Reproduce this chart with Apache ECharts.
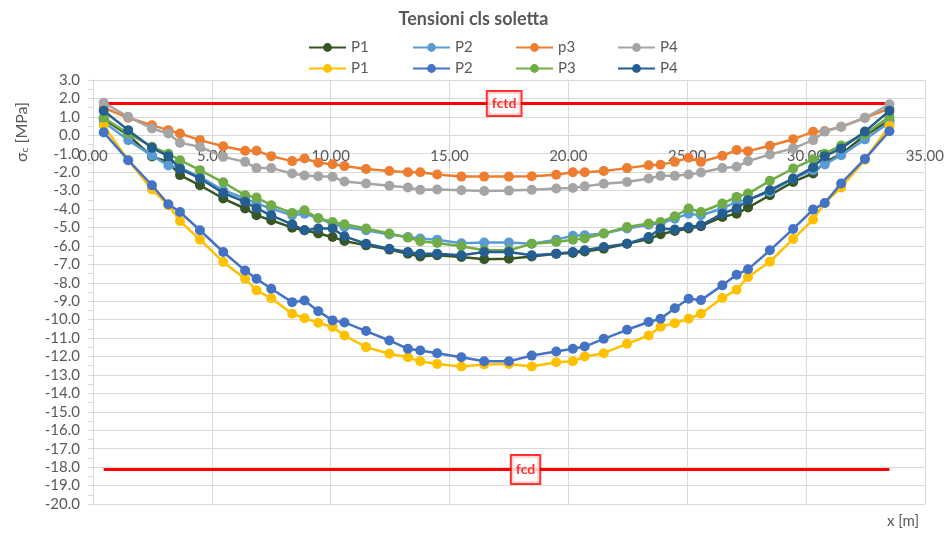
<!DOCTYPE html>
<html>
<head>
<meta charset="utf-8">
<script src="https://cdn.jsdelivr.net/npm/echarts@6/dist/echarts.min.js"></script>
<style>html,body{margin:0;padding:0;background:#fff}#c{width:947px;height:533px}</style>
</head>
<body>
<div id="c"></div>
<script>
// ---- data ----
const xPos = [0.45, 1.48, 2.48, 3.17, 3.66, 4.50, 5.48, 6.40, 6.88, 7.50, 8.38, 8.90, 9.48, 10.08, 10.58, 11.49, 12.47, 13.25, 13.77, 14.48, 15.50, 16.46, 17.50, 18.46, 19.49, 20.19, 20.69, 21.49, 22.47, 23.38, 23.88, 24.48, 25.06, 25.58, 26.48, 27.08, 27.56, 28.48, 29.46, 30.30, 30.79, 31.48, 32.48, 33.51];
const seriesNames = ['P1', 'P2', 'p3', 'P4', 'P1', 'P2', 'P3', 'P4'];
const seriesColors = ['#375623', '#5B9BD5', '#ED7D31', '#A5A5A5', '#FFC000', '#4472C4', '#70AD47', '#255E91'];
const p1a = [0.88, 0.0, -1.15, -1.44, -2.16, -2.71, -3.43, -3.97, -4.34, -4.61, -5.01, -5.15, -5.33, -5.52, -5.73, -5.97, -6.20, -6.42, -6.57, -6.51, -6.60, -6.72, -6.69, -6.57, -6.42, -6.38, -6.30, -6.15, -5.88, -5.63, -5.37, -5.19, -5.06, -4.93, -4.43, -4.25, -3.92, -3.25, -2.53, -2.07, -1.45, -1.02, 0.0, 0.80];
const p2a = [0.72, -0.26, -1.10, -1.64, -1.75, -2.25, -2.98, -3.43, -3.70, -3.97, -4.34, -4.25, -4.50, -4.80, -4.97, -5.15, -5.38, -5.52, -5.60, -5.66, -5.86, -5.82, -5.82, -5.88, -5.66, -5.45, -5.42, -5.33, -5.05, -4.85, -4.79, -4.52, -4.25, -4.34, -3.97, -3.61, -3.48, -3.07, -2.34, -1.89, -1.58, -1.08, -0.22, 0.70];
const p3a = [1.50, 0.95, 0.55, 0.28, 0.10, -0.26, -0.59, -0.84, -0.84, -1.13, -1.40, -1.26, -1.49, -1.57, -1.67, -1.83, -1.94, -2.00, -2.00, -2.13, -2.24, -2.24, -2.24, -2.22, -2.14, -2.00, -2.00, -1.94, -1.78, -1.62, -1.60, -1.44, -1.22, -1.44, -1.11, -0.80, -0.86, -0.57, -0.21, 0.19, 0.23, 0.46, 0.95, 1.45];
const p4a = [1.77, 1.00, 0.37, 0.10, -0.41, -0.62, -1.17, -1.44, -1.78, -1.78, -2.07, -2.18, -2.22, -2.25, -2.51, -2.61, -2.74, -2.83, -2.96, -2.94, -2.98, -3.02, -3.00, -2.96, -2.89, -2.86, -2.77, -2.63, -2.53, -2.34, -2.20, -2.20, -2.13, -2.02, -1.77, -1.71, -1.40, -1.04, -0.71, -0.26, 0.20, 0.46, 0.95, 1.68];
const p1b = [0.53, -1.35, -2.94, -3.79, -4.65, -5.66, -6.87, -7.78, -8.41, -8.84, -9.68, -9.92, -10.17, -10.40, -10.86, -11.49, -11.85, -12.04, -12.26, -12.40, -12.54, -12.43, -12.40, -12.54, -12.31, -12.26, -12.00, -11.82, -11.31, -10.86, -10.38, -10.19, -9.95, -9.68, -8.83, -8.38, -7.69, -6.86, -5.62, -4.57, -3.67, -2.83, -1.33, 0.52];
const p2b = [0.16, -1.35, -2.71, -3.74, -4.16, -5.15, -6.33, -7.33, -7.78, -8.32, -9.05, -8.96, -9.54, -10.04, -10.15, -10.62, -11.13, -11.58, -11.67, -11.82, -12.04, -12.26, -12.26, -11.95, -11.73, -11.58, -11.46, -11.04, -10.55, -10.13, -9.95, -9.38, -8.87, -8.94, -8.14, -7.56, -7.27, -6.24, -5.08, -4.03, -3.67, -2.61, -1.28, 0.22];
const p3b = [0.95, 0.10, -0.62, -1.00, -1.35, -1.89, -2.55, -3.25, -3.38, -3.79, -4.21, -4.07, -4.50, -4.70, -4.83, -5.06, -5.33, -5.55, -5.75, -5.84, -6.02, -6.24, -6.24, -5.88, -5.79, -5.66, -5.60, -5.33, -4.97, -4.79, -4.70, -4.39, -3.97, -4.16, -3.70, -3.34, -3.16, -2.47, -1.80, -1.30, -1.00, -0.55, 0.05, 1.02];
const p4b = [1.33, 0.28, -0.68, -1.13, -1.82, -2.34, -3.13, -3.61, -3.97, -4.34, -4.83, -5.15, -5.06, -5.06, -5.48, -5.88, -6.15, -6.33, -6.42, -6.42, -6.51, -6.33, -6.33, -6.51, -6.42, -6.33, -6.24, -6.06, -5.88, -5.52, -5.06, -5.11, -4.97, -4.88, -4.25, -3.97, -3.52, -2.98, -2.34, -1.74, -1.13, -0.71, 0.20, 1.33];
const seriesValues = [p1a, p2a, p3a, p4a, p1b, p2b, p3b, p4b];
const fctd = 1.73;
const fcd = -18.13;
const fctdLabelX = 17.3;
const fcdLabelX = 18.2;
const xMin = 0, xMax = 35, xStep = 5;
const yMin = -20, yMax = 3, yStep = 1;

// ---- chart ----
const FONT = 'Lato, "Liberation Sans", sans-serif';
const GREY = '#595959';
const GRID = '#D9D9D9';
const chart = echarts.init(document.getElementById('c'), null, {renderer: 'canvas'});
const ids = seriesNames.map((n, i) => 's' + i);
const series = seriesValues.map((vals, i) => ({
  name: ids[i],
  type: 'line',
  data: xPos.map((x, j) => [x, vals[j]]),
  symbol: 'circle',
  symbolSize: 10,
  color: seriesColors[i],
  lineStyle: {width: 2.5, color: seriesColors[i]},
  itemStyle: {color: seriesColors[i]},
  z: 3 + i
}));
const x0 = xPos[0], x1 = xPos[xPos.length - 1];
series.push({
  name: 'fctdLine', type: 'line', data: [[x0, fctd], [x1, fctd]], symbol: 'none',
  lineStyle: {width: 3, color: '#FF0000'}, z: 2, silent: true
});
series.push({
  name: 'fcdLine', type: 'line', data: [[x0, fcd], [x1, fcd]], symbol: 'none',
  lineStyle: {width: 3, color: '#FF0000'}, z: 2, silent: true
});
const boxLabel = {
  show: true, position: 'inside', formatter: '{b}', color: '#FF0000', fontWeight: 'bold',
  fontFamily: FONT, fontSize: 14, backgroundColor: '#fff', borderColor: '#FF0000',
  borderWidth: 2, padding: [5, 4, 4, 4]
};
series.push({
  name: 'limLabels', type: 'scatter', symbol: 'rect', symbolSize: 1,
  itemStyle: {color: 'rgba(0,0,0,0)'}, z: 20, silent: true,
  data: [
    {name: 'fctd', value: [fctdLabelX, fctd], label: boxLabel},
    {name: 'fcd', value: [fcdLabelX, fcd], label: Object.assign({}, boxLabel, {padding: [7, 4, 6, 4]})}
  ]
});

const legendCols = [303, 407, 510, 612];
const legendRows = [35, 56];
const legends = ids.map((id, i) => ({
  data: [id],
  left: legendCols[i % 4],
  top: legendRows[Math.floor(i / 4)],
  itemWidth: 37,
  itemHeight: 11,
  itemGap: 4,
  selectedMode: false,
  formatter: () => seriesNames[i],
  textStyle: {color: GREY, fontSize: 15, fontFamily: FONT}
}));

chart.setOption({
  animation: false,
  backgroundColor: '#fff',
  title: {
    text: 'Tensioni cls soletta', left: 'center', top: 5,
    textStyle: {color: GREY, fontSize: 18, fontWeight: 'bold', fontFamily: FONT}
  },
  legend: legends,
  grid: {left: 93, right: 21, top: 80, bottom: 29, containLabel: false},
  xAxis: {
    type: 'value', min: xMin, max: xMax, interval: xStep,
    axisLine: {show: true, onZero: false, lineStyle: {color: GRID, width: 1}},
    axisTick: {show: false},
    axisLabel: {color: GREY, fontSize: 15, fontFamily: FONT, margin: 13, formatter: v => v.toFixed(2), showMaxLabel: true},
    splitLine: {show: true, lineStyle: {color: GRID, width: 1}}
  },
  yAxis: {
    type: 'value', min: yMin, max: yMax, interval: yStep,
    axisLine: {show: true, onZero: false, lineStyle: {color: GRID, width: 1}},
    axisTick: {show: true, length: 5, lineStyle: {color: GRID}},
    minorTick: {show: true, splitNumber: 2, length: 5, lineStyle: {color: GRID}},
    axisLabel: {color: GREY, fontSize: 15, fontFamily: FONT, margin: 13, formatter: v => v.toFixed(1)},
    splitLine: {show: true, lineStyle: {color: GRID, width: 1}}
  },
  graphic: [
    {
      type: 'text', x: 22, y: 132, rotation: Math.PI / 2,
      style: {
        text: '{a|σ}{s|c}{a| [MPa]}', align: 'center', verticalAlign: 'middle',
        rich: {
          a: {fontSize: 16, fontFamily: FONT, fill: GREY, color: GREY},
          s: {fontSize: 10, fontFamily: FONT, fill: GREY, color: GREY, verticalAlign: 'bottom', padding: [6, 0, 0, 0]}
        }
      }
    },
    {
      type: 'text', right: 28, top: 514,
      style: {text: 'x [m]', fontSize: 15, fontFamily: FONT, fill: GREY}
    }
  ],
  series: series
});

// put the x axis (line and labels) on the y = 0 line, as in the reference
const yZeroPx = chart.convertToPixel({yAxisIndex: 0}, 0);
const yBottomPx = chart.convertToPixel({yAxisIndex: 0}, yMin);
chart.setOption({xAxis: {offset: yZeroPx - yBottomPx}});
</script>
</body>
</html>
